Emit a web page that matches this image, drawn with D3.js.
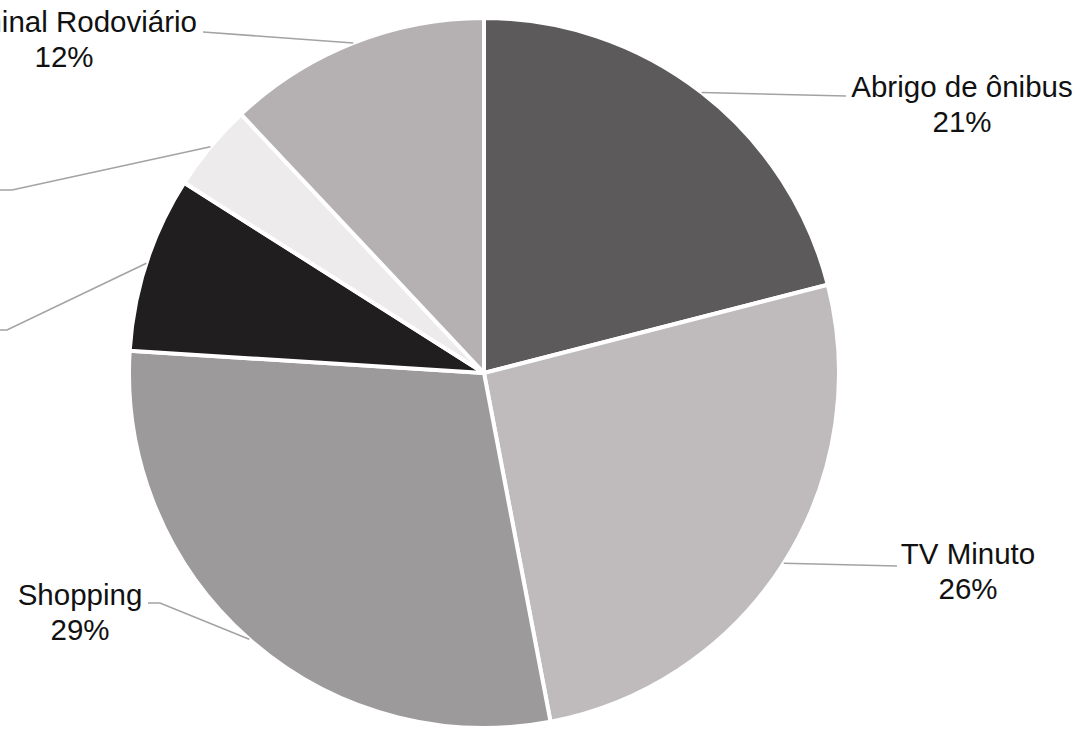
<!DOCTYPE html>
<html>
<head>
<meta charset="utf-8">
<script src="https://cdn.jsdelivr.net/npm/d3@7"></script>
<style>
  html, body { margin: 0; padding: 0; background: #fff; }
  svg { display: block; }
  text { font-family: "Liberation Sans", Arial, sans-serif; fill: #111; }
</style>
</head>
<body>
<svg id="chart" width="1081" height="729"></svg>
<script>
// Share of each media channel (percent), clockwise from 12 o'clock
const categories = ["Abrigo de ônibus", "TV Minuto", "Shopping", "Outros A", "Outros B", "Terminal Rodoviário"];
const values = [21, 26, 29, 8, 4, 12];
const valueLabels = ["21%", "26%", "29%", "8%", "4%", "12%"];
const showLabel = [true, true, true, false, false, true];

const fills = ["#5c5a5b", "#bfbbbc", "#9c9a9b", "#201e1f", "#eeebec", "#b5b1b2"];

// Label placement: anchor of the text block and the leader-line path end
const labelLayout = [
  { x: 962, y: 97,  anchor: "middle", line: [[846, 96]] },
  { x: 968, y: 564, anchor: "middle", line: [[897, 566]] },
  { x: 80,  y: 605, anchor: "middle", line: [[160, 603], [148, 603]] },
  { x: 0,   y: 0,   anchor: "middle", line: [[7, 330], [-20, 330]] },
  { x: 0,   y: 0,   anchor: "middle", line: [[12, 190], [-20, 190]] },
  { x: 64,  y: 32,  anchor: "middle", line: [[203, 32]], nameX: 197, nameAnchor: "end" }
];

const svg = d3.select("#chart");
const cx = 484, cy = 373, radius = 355;
const g = svg.append("g").attr("transform", `translate(${cx},${cy})`);

const data = categories.map((c, i) => ({ name: c, value: values[i], label: valueLabels[i], i }));

const pie = d3.pie().value(d => d.value).sort(null);
const arcs = pie(data);
const arc = d3.arc().innerRadius(0).outerRadius(radius);
const edgeArc = d3.arc().innerRadius(radius).outerRadius(radius);

g.selectAll("path.slice")
  .data(arcs)
  .join("path")
  .attr("class", "slice")
  .attr("d", arc)
  .attr("fill", d => fills[d.data.i])
  .attr("stroke", "#fff")
  .attr("stroke-width", 4)
  .attr("stroke-linejoin", "round");

// Leader lines from the middle of each slice's outer edge
const line = d3.line();
svg.selectAll("path.leader")
  .data(arcs)
  .join("path")
  .attr("class", "leader")
  .attr("d", d => {
    const [ex, ey] = edgeArc.centroid(d);
    const pts = [[cx + ex, cy + ey]].concat(labelLayout[d.data.i].line);
    return line(pts);
  })
  .attr("fill", "none")
  .attr("stroke", "#a3a3a3")
  .attr("stroke-width", 1.6);

// Category name and percentage
const labels = svg.selectAll("g.label")
  .data(arcs.filter(d => showLabel[d.data.i]))
  .join("g")
  .attr("class", "label");

labels.append("text")
  .attr("x", d => labelLayout[d.data.i].nameX ?? labelLayout[d.data.i].x)
  .attr("y", d => labelLayout[d.data.i].y)
  .attr("text-anchor", d => labelLayout[d.data.i].nameAnchor ?? labelLayout[d.data.i].anchor)
  .attr("font-size", 29.5)
  .text(d => d.data.name);

labels.append("text")
  .attr("x", d => labelLayout[d.data.i].x)
  .attr("y", d => labelLayout[d.data.i].y + 35)
  .attr("text-anchor", d => labelLayout[d.data.i].anchor)
  .attr("font-size", 29.5)
  .text(d => d.data.label);
</script>
</body>
</html>
